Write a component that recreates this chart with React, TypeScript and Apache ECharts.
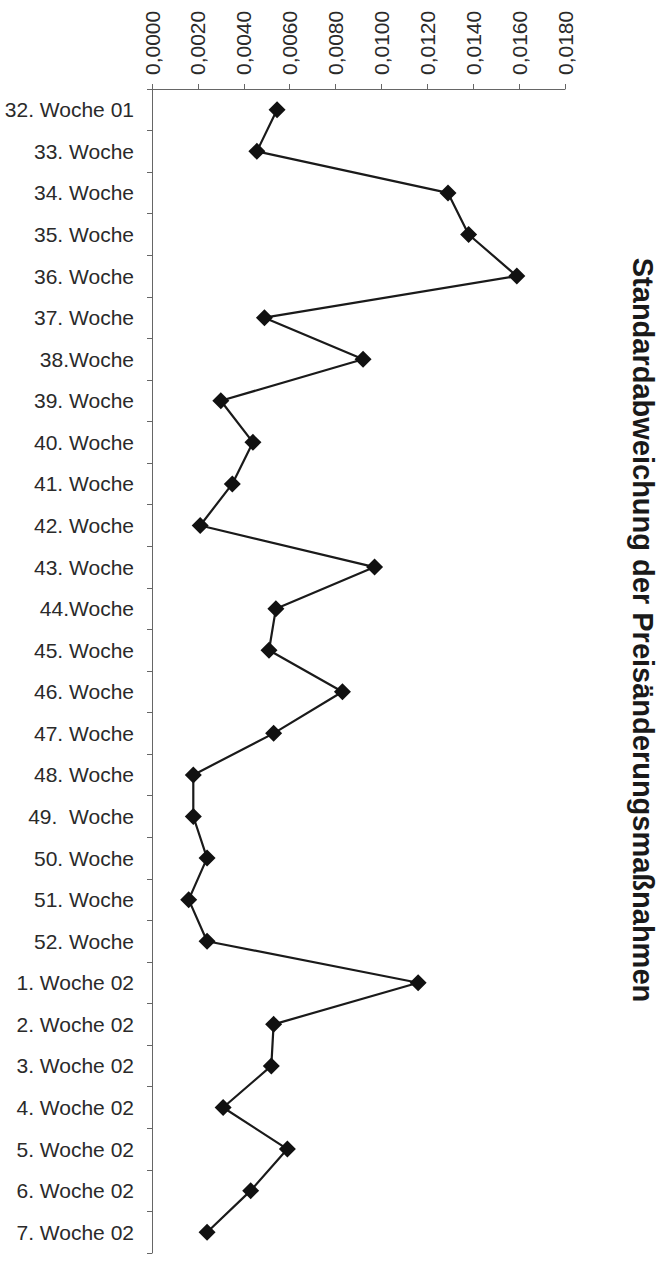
import React, { useEffect, useRef } from "react";
import * as echarts from "echarts";

const categories = [
  "32. Woche 01", "33. Woche", "34. Woche", "35. Woche", "36. Woche", "37. Woche",
  "38.Woche", "39. Woche", "40. Woche", "41. Woche", "42. Woche", "43. Woche",
  "44.Woche", "45. Woche", "46. Woche", "47. Woche", "48. Woche", "49.  Woche",
  "50. Woche", "51. Woche", "52. Woche", "1. Woche 02", "2. Woche 02", "3. Woche 02",
  "4. Woche 02", "5. Woche 02", "6. Woche 02", "7. Woche 02",
];

const stdDev = [
  0.00545, 0.00457, 0.0129, 0.0138, 0.0159, 0.0049,
  0.0092, 0.0030, 0.0044, 0.0035, 0.0021, 0.0097,
  0.0054, 0.0051, 0.0083, 0.0053, 0.0018, 0.0018,
  0.0024, 0.0016, 0.0024, 0.0116, 0.0053, 0.0052,
  0.0031, 0.0059, 0.0043, 0.0024,
];

const valueMin = 0;
const valueMax = 0.018;
const valueInterval = 0.002;

const titleText = "Standardabweichung der Preisänderungsmaßnahmen";

export default function App() {
  const ref = useRef<HTMLDivElement>(null);

  useEffect(() => {
    if (!ref.current) return;
    const chart = echarts.init(ref.current, null, { renderer: "svg" });
    const font = "'Liberation Sans', Arial, sans-serif";
    chart.setOption({
      animation: false,
      backgroundColor: "#ffffff",
      grid: { left: 152, top: 89, right: 105, bottom: 8, containLabel: false },
      xAxis: {
        type: "value",
        position: "top",
        min: valueMin,
        max: valueMax,
        interval: valueInterval,
        axisLine: { show: true, lineStyle: { color: "#666", width: 1 } },
        axisTick: { show: true, length: 5, lineStyle: { color: "#666" } },
        splitLine: { show: false },
        axisLabel: {
          rotate: -90,
          margin: 14,
          fontSize: 21,
          fontFamily: font,
          color: "#2a2a2a",
          showMinLabel: true,
          showMaxLabel: true,
          formatter: (v: number) => v.toFixed(4).replace(".", ","),
        },
      },
      yAxis: {
        type: "category",
        inverse: true,
        data: categories,
        boundaryGap: true,
        axisLine: { show: true, lineStyle: { color: "#666", width: 1 } },
        axisTick: { show: true, length: 5, lineStyle: { color: "#666" } },
        splitLine: { show: false },
        axisLabel: {
          margin: 18,
          fontSize: 21,
          fontFamily: font,
          color: "#2a2a2a",
          interval: 0,
        },
      },
      series: [
        {
          type: "line",
          data: stdDev,
          symbol: "diamond",
          symbolSize: 17,
          itemStyle: { color: "#111" },
          lineStyle: { color: "#1a1a1a", width: 2.2 },
        },
      ],
      graphic: [
        {
          type: "text",
          x: 643,
          y: 630,
          rotation: -Math.PI / 2,
          style: {
            text: titleText,
            fontSize: 29,
            fontWeight: "bold",
            fontFamily: font,
            fill: "#1a1a1a",
            align: "center",
            verticalAlign: "middle",
          },
        },
      ],
    });
    return () => chart.dispose();
  }, []);

  return (
    <div
      ref={ref}
      style={{ position: "absolute", left: 0, top: 0, width: 670, height: 1261 }}
    />
  );
}
